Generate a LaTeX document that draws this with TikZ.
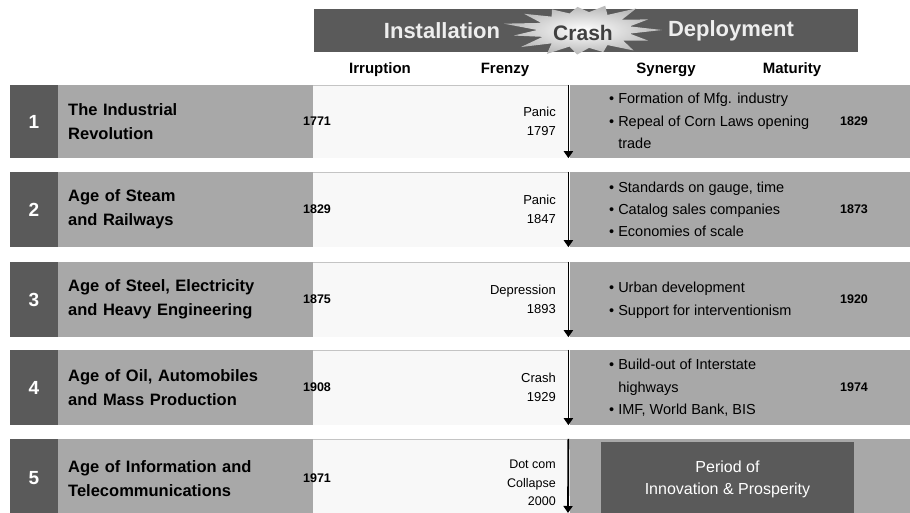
\documentclass[tikz,border=0pt]{standalone}
\usepackage{fontspec}
\setmainfont{Liberation Sans}
\usetikzlibrary{arrows.meta}
\definecolor{darkg}{HTML}{5A5A5A}
\definecolor{midg}{HTML}{A8A8A8}
\definecolor{lightbg}{HTML}{F8F8F8}
\definecolor{lineg}{HTML}{C4C4C4}
\definecolor{hdrtext}{HTML}{EEEEEE}
\begin{document}
\begin{tikzpicture}[x=1pt,y=-1pt,
  numbox/.style={rectangle,fill=darkg,minimum width=48pt,inner sep=0pt,text=white,font=\bfseries\fontsize{19}{21}\selectfont},
  titlebox/.style={rectangle,fill=midg,anchor=west,minimum width=255pt,inner xsep=10pt,inner ysep=0pt,text width=235pt,align=left,font=\bfseries\fontsize{16.5}{24}\selectfont},
  midbox/.style={rectangle,fill=lightbg,anchor=west,minimum width=255pt,inner sep=0pt},
  rightbox/.style={rectangle,fill=midg,anchor=west,minimum width=340pt,inner sep=0pt},
  yearlbl/.style={font=\bfseries\fontsize{12.5}{14}\selectfont,inner sep=0pt},
  crashlbl/.style={anchor=east,align=right,inner sep=0pt,font=\fontsize{13}{19}\selectfont},
  bullets/.style={anchor=west,inner sep=0pt,font=\fontsize{14.5}{22.5}\selectfont},
  crasharrow/.style={-{Triangle[width=9pt,length=7pt]},line width=1.8pt,black},
  subhdr/.style={font=\bfseries\fontsize{15}{17}\selectfont,inner sep=0pt},
  hdrtxt/.style={font=\bfseries\fontsize{22}{24}\selectfont,text=hdrtext,inner sep=0pt},
  burstfill/.style={inner color=white,outer color=gray!55}
]
\useasboundingbox (0,0) rectangle (910,513);
\fill[white] (0,0) rectangle (910,513);

% header
\node[rectangle,fill=darkg,minimum width=544pt,minimum height=43pt,inner sep=0pt] (hdr) at (586,30.5) {};
\coordinate (bc) at (584,30);
\shade[burstfill] ([shift={(bc)}]0:{78} and {29})
  \foreach \a/\r in {12/0.6,24/0.9,36/0.62,48/0.95,60/0.6,72/0.8,84/0.62,96/0.85,108/0.6,120/0.95,132/0.62,144/1.0,156/0.58,168/0.92,180/0.6,192/1.05,204/0.6,216/0.95,228/0.62,240/0.82,252/0.6,264/0.8,276/0.62,288/0.88,300/0.6,312/1.0,324/0.6,336/0.9,348/0.6}
  { -- ([shift={(bc)}]\a:{78*\r} and {29*\r}) } -- cycle;
\node[hdrtxt] (inst) at (442,31) {Installation};
\node[hdrtxt] (depl) at (731,31) {Deployment};
\node[font=\bfseries\fontsize{21}{24}\selectfont,text=black!75,inner sep=0pt] (crash) at (583,33) {Crash};

\node[subhdr] (irr) at (380,70) {Irruption};
\node[subhdr] (fre) at (505,70) {Frenzy};
\node[subhdr] (syn) at (666,70) {Synergy};
\node[subhdr] (mat) at (792,70) {Maturity};

% row 1
\node[numbox,minimum height=73pt] (n1) at (34,121.5) {1};
\node[titlebox,minimum height=73pt] (t1) at (58,121.5) {The Industrial\\Revolution};
\node[midbox,minimum height=73pt] (m1) at (313,121.5) {};
\node[rightbox,minimum height=73pt] (r1) at (570,121.5) {};
\draw[lineg] (m1.north west) -- (m1.north east);
\draw[crasharrow] (m1.north east) -- (m1.south east);
\node[yearlbl] (y1a) at (317,121.5) {1771};
\node[crashlbl] (c1) at (556,121.5) {Panic\\1797};
\node[bullets] (b1) at (609,122) {\begin{tabular}{@{}l@{\hspace{4pt}}l@{}}\textbullet & Formation of Mfg. industry\\ \textbullet & Repeal of Corn Laws opening\\ & trade\end{tabular}};
\node[yearlbl] (y1b) at (854,121.5) {1829};

% row 2
\node[numbox,minimum height=75pt] (n2) at (34,209.5) {2};
\node[titlebox,minimum height=75pt] (t2) at (58,209.5) {Age of Steam\\and Railways};
\node[midbox,minimum height=75pt] (m2) at (313,209.5) {};
\node[rightbox,minimum height=75pt] (r2) at (570,209.5) {};
\draw[lineg] (m2.north west) -- (m2.north east);
\draw[crasharrow] (m2.north east) -- (m2.south east);
\node[yearlbl] (y2a) at (317,209.5) {1829};
\node[crashlbl] (c2) at (556,209.5) {Panic\\1847};
\node[bullets] (b2) at (609,210) {\begin{tabular}{@{}l@{\hspace{4pt}}l@{}}\textbullet & Standards on gauge, time\\ \textbullet & Catalog sales companies\\ \textbullet & Economies of scale\end{tabular}};
\node[yearlbl] (y2b) at (854,209.5) {1873};

% row 3
\node[numbox,minimum height=75pt] (n3) at (34,299.5) {3};
\node[titlebox,minimum height=75pt] (t3) at (58,299.5) {Age of Steel, Electricity\\and Heavy Engineering};
\node[midbox,minimum height=75pt] (m3) at (313,299.5) {};
\node[rightbox,minimum height=75pt] (r3) at (570,299.5) {};
\draw[lineg] (m3.north west) -- (m3.north east);
\draw[crasharrow] (m3.north east) -- (m3.south east);
\node[yearlbl] (y3a) at (317,299.5) {1875};
\node[crashlbl] (c3) at (556,299.5) {Depression\\1893};
\node[bullets] (b3) at (609,299.5) {\begin{tabular}{@{}l@{\hspace{4pt}}l@{}}\textbullet & Urban development\\ \textbullet & Support for interventionism\end{tabular}};
\node[yearlbl] (y3b) at (854,299.5) {1920};

% row 4
\node[numbox,minimum height=75pt] (n4) at (34,387.5) {4};
\node[titlebox,minimum height=75pt] (t4) at (58,387.5) {Age of Oil, Automobiles\\and Mass Production};
\node[midbox,minimum height=75pt] (m4) at (313,387.5) {};
\node[rightbox,minimum height=75pt] (r4) at (570,387.5) {};
\draw[lineg] (m4.north west) -- (m4.north east);
\draw[crasharrow] (m4.north east) -- (m4.south east);
\node[yearlbl] (y4a) at (317,387.5) {1908};
\node[crashlbl] (c4) at (556,387.5) {Crash\\1929};
\node[bullets] (b4) at (609,387.5) {\begin{tabular}{@{}l@{\hspace{4pt}}l@{}}\textbullet & Build-out of Interstate\\ & highways\\ \textbullet & IMF, World Bank, BIS\end{tabular}};
\node[yearlbl] (y4b) at (854,387.5) {1974};

% row 5
\node[numbox,minimum height=79pt] (n5) at (34,478.5) {5};
\node[titlebox,minimum height=79pt] (t5) at (58,478.5) {Age of Information and\\Telecommunications};
\node[midbox,minimum height=79pt] (m5) at (313,478.5) {};
\node[rightbox,minimum height=79pt] (r5) at (570,478.5) {};
\draw[lineg] (m5.north west) -- (m5.north east);
\coordinate (a5e) at (568,513);
\draw[crasharrow] (m5.north east) -- (a5e);
\node[yearlbl] (y5a) at (317,478.5) {1971};
\node[crashlbl,font=\fontsize{12.5}{18.5}\selectfont] (c5) at (556,483) {Dot com\\Collapse\\2000};
\node[rectangle,fill=darkg,anchor=north,minimum width=253pt,minimum height=74pt,inner sep=0pt,
      text=white,align=center,font=\fontsize{16}{22}\selectfont] (pip) at (727.5,442) {Period of\\Innovation \& Prosperity};
\end{tikzpicture}
\end{document}
